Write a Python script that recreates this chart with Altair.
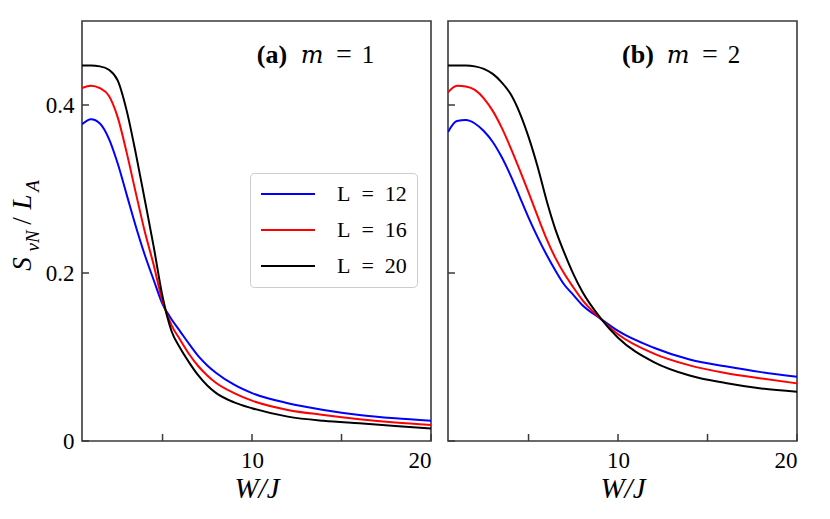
import altair as alt
import pandas as pd

# ---------------- data ----------------
W = [0.5, 1.0, 1.5, 2.0, 2.5, 3.0, 3.5, 4.0, 4.5, 5.0, 5.5, 6.0, 6.5, 7.0,
     7.5, 8.0, 9.0, 10.0, 12.0, 14.0, 16.0, 18.0, 20.0]

L_NAMES = ["L = 12", "L = 16", "L = 20"]
L_COLORS = ["#0000ff", "#ff0000", "#000000"]

# panel (a): m = 1
M1_L12 = [0.377, 0.383, 0.378, 0.360, 0.330, 0.293, 0.256, 0.222, 0.192, 0.163,
          0.145, 0.130, 0.115, 0.101, 0.090, 0.081, 0.067, 0.057, 0.045, 0.037,
          0.031, 0.027, 0.024]
M1_L16 = [0.420, 0.423, 0.420, 0.411, 0.385, 0.343, 0.296, 0.250, 0.210, 0.166,
          0.138, 0.120, 0.103, 0.089, 0.078, 0.069, 0.057, 0.048, 0.037, 0.031,
          0.026, 0.022, 0.019]
M1_L20 = [0.447, 0.447, 0.446, 0.442, 0.429, 0.393, 0.343, 0.288, 0.232, 0.172,
          0.131, 0.110, 0.093, 0.078, 0.066, 0.057, 0.046, 0.039, 0.029, 0.024,
          0.021, 0.018, 0.015]

# panel (b): m = 2
M2_L12 = [0.368, 0.381, 0.382, 0.378, 0.369, 0.356, 0.338, 0.316, 0.291, 0.266,
          0.243, 0.222, 0.203, 0.186, 0.174, 0.162, 0.146, 0.131, 0.111, 0.097,
          0.089, 0.082, 0.0765]
M2_L16 = [0.415, 0.423, 0.422, 0.418, 0.408, 0.393, 0.373, 0.349, 0.323, 0.296,
          0.268, 0.241, 0.218, 0.199, 0.183, 0.168, 0.146, 0.127, 0.104, 0.090,
          0.081, 0.0745, 0.0686]
M2_L20 = [0.447, 0.447, 0.447, 0.446, 0.443, 0.437, 0.427, 0.413, 0.391, 0.362,
          0.327, 0.287, 0.252, 0.224, 0.199, 0.178, 0.147, 0.123, 0.094, 0.078,
          0.069, 0.0625, 0.0587]

X_TICKS = [5, 10, 15, 20]
X_LABELS = [10, 20]
Y_TICKS = [0, 0.2, 0.4]

# ---------------- style ----------------
FONT = "Liberation Serif"
FRAME = "#3a3a3a"
PW, PH = 349, 420
NB = "\u00a0"


def make_df(series):
    rows = []
    for name, vals in zip(L_NAMES, series):
        for w, s in zip(W, vals):
            rows.append({"W": w, "S": s, "L": name})
    return pd.DataFrame(rows)


def text_layer(s, x, y, size, style="normal", weight="normal", angle=0,
               align="center", font=FONT):
    return alt.Chart(pd.DataFrame({"txt": [s]})).mark_text(
        align=align, baseline="alphabetic", font=font, fontSize=size,
        fontStyle=style, fontWeight=weight, angle=angle, color="black"
    ).encode(x=alt.value(x), y=alt.value(y), text="txt:N")


def panel(series, tag, mval, show_y, show_legend):
    df = make_df(series)
    xenc = alt.X(
        "W:Q",
        scale=alt.Scale(domain=[0.5, 20], nice=False, zero=False),
        axis=alt.Axis(values=X_LABELS, format="d", title="W/J", ticks=False,
                      domain=False, grid=False, labelFont=FONT, labelFontSize=23,
                      labelPadding=8, labelColor="black", titleFont=FONT,
                      titleFontSize=29, titleFontStyle="italic",
                      titleFontWeight="normal", titleColor="black",
                      titlePadding=2),
    )
    if show_y:
        yaxis = alt.Axis(values=Y_TICKS,
                         labelExpr="datum.value == 0 ? '0' : format(datum.value, '.1f')",
                         title=None, ticks=False, domain=False, grid=False,
                         labelFont=FONT, labelFontSize=23, labelPadding=8,
                         labelColor="black")
    else:
        yaxis = None
    yenc = alt.Y("S:Q", scale=alt.Scale(domain=[0, 0.5], nice=False), axis=yaxis)

    if show_legend:
        legend = alt.Legend(title=None, orient="none", legendX=168, legendY=152,
                            symbolType="stroke", symbolSize=2916,
                            symbolStrokeWidth=2, clipHeight=22, rowPadding=14,
                            labelFont=FONT, labelFontSize=22, labelColor="black",
                            labelExpr="replace(datum.label, ' = ', '" + NB + " = " + NB + "')",
                            labelOffset=21, padding=10, strokeColor="#cccccc",
                            fillColor="white", cornerRadius=4)
    else:
        legend = None

    lines = alt.Chart(df).mark_line(strokeWidth=2, interpolate="monotone", clip=True).encode(
        x=xenc, y=yenc,
        color=alt.Color("L:N", scale=alt.Scale(domain=L_NAMES, range=L_COLORS),
                        legend=legend),
    )
    xt = alt.Chart(pd.DataFrame({"W": X_TICKS})).mark_rule(color=FRAME, strokeWidth=1.5).encode(
        x=xenc, y=alt.value(PH), y2=alt.value(PH - 7))
    yt = alt.Chart(pd.DataFrame({"S": Y_TICKS})).mark_rule(color=FRAME, strokeWidth=1.5).encode(
        y=yenc, x=alt.value(0), x2=alt.value(7))

    layers = [lines, xt, yt,
              text_layer(tag, 190, 42, 26, weight="bold"),
              text_layer("m", 230, 42, 24, style="italic", font="DejaVu Serif"),
              text_layer("=", 262, 42, 28),
              text_layer(mval, 286, 42, 25)]
    if show_y:
        layers += [
            text_layer("S", -51, 243, 27, style="italic", angle=270),
            text_layer("vN", -43, 220, 19, style="italic", angle=270),
            text_layer("/", -51, 200, 27, angle=270),
            text_layer("L", -51, 181, 27, style="italic", angle=270),
            text_layer("A", -43, 165, 19, style="italic", angle=270),
        ]
    return alt.layer(*layers).properties(width=PW, height=PH)


left = panel([M1_L12, M1_L16, M1_L20], "(a)", "1", True, True)
right = panel([M2_L12, M2_L16, M2_L20], "(b)", "2", False, False)

chart = (
    alt.hconcat(left, right, spacing=17, bounds="flush")
    .resolve_scale(color="independent")
    .resolve_legend(color="independent")
    .configure_view(stroke=FRAME, strokeWidth=1.6)
    .properties(padding={"left": 0, "top": 12, "right": 5, "bottom": 5},
                background="white")
)

chart.save("out.html", embed_options={"renderer": "svg", "actions": False})
